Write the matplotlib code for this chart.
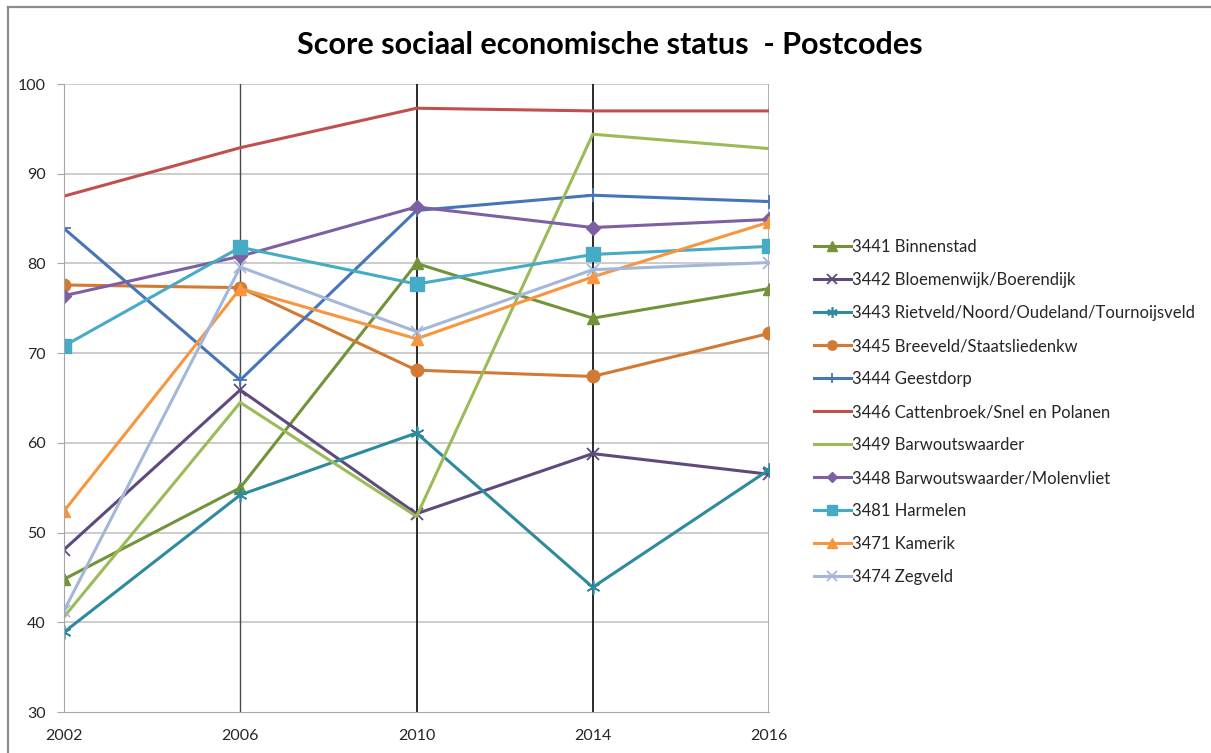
import matplotlib.pyplot as plt
from matplotlib.lines import Line2D

plt.rcParams['font.family'] = ['Lato', 'DejaVu Sans']

years = ["2002", "2006", "2010", "2014", "2016"]

binnenstad = [44.8, 55.0, 80.0, 73.9, 77.2]
bloemenwijk = [48.1, 65.9, 52.1, 58.8, 56.5]
rietveld = [38.9, 54.2, 61.1, 43.9, 57.0]
breeveld = [77.6, 77.3, 68.1, 67.4, 72.2]
geestdorp = [83.9, 67.0, 85.9, 87.6, 86.9]
cattenbroek = [87.5, 92.9, 97.3, 97.0, 97.0]
barwoutswaarder = [40.6, 64.5, 51.8, 94.4, 92.8]
molenvliet = [76.4, 80.8, 86.3, 84.0, 84.9]
harmelen = [70.8, 81.8, 77.7, 81.0, 81.9]
kamerik = [52.4, 77.2, 71.6, 78.5, 84.6]
zegveld = [41.3, 79.6, 72.4, 79.3, 80.1]

series = [
    ("3441 Binnenstad", binnenstad),
    ("3442 Bloemenwijk/Boerendijk", bloemenwijk),
    ("3443 Rietveld/Noord/Oudeland/Tournoijsveld", rietveld),
    ("3445 Breeveld/Staatsliedenkw", breeveld),
    ("3444 Geestdorp", geestdorp),
    ("3446 Cattenbroek/Snel en Polanen", cattenbroek),
    ("3449 Barwoutswaarder", barwoutswaarder),
    ("3448 Barwoutswaarder/Molenvliet", molenvliet),
    ("3481 Harmelen", harmelen),
    ("3471 Kamerik", kamerik),
    ("3474 Zegveld", zegveld),
]

styles = {
    "3441 Binnenstad": dict(color="#71943A", marker="^", markersize=9),
    "3442 Bloemenwijk/Boerendijk": dict(color="#5E4A7C", marker="x", markersize=9, markeredgewidth=1.3),
    "3443 Rietveld/Noord/Oudeland/Tournoijsveld": dict(color="#2E8A9E", marker=(6, 2, 0), markersize=10, markeredgewidth=1.2),
    "3445 Breeveld/Staatsliedenkw": dict(color="#D27A33", marker="o", markersize=9),
    "3444 Geestdorp": dict(color="#4676B8", marker="+", markersize=10, markeredgewidth=1.3),
    "3446 Cattenbroek/Snel en Polanen": dict(color="#C0504D"),
    "3449 Barwoutswaarder": dict(color="#9BBB59"),
    "3448 Barwoutswaarder/Molenvliet": dict(color="#7D5FA3", marker="D", markersize=7),
    "3481 Harmelen": dict(color="#45ABC6", marker="s", markersize=10),
    "3471 Kamerik": dict(color="#F7963F", marker="^", markersize=9),
    "3474 Zegveld": dict(color="#A5B7D8", marker="x", markersize=9, markeredgewidth=1.3),
}

W, H = 1211, 753
fig = plt.figure(figsize=(W / 100, H / 100), dpi=100)
fig.patch.set_facecolor("white")

# outer chart frame (left and top edges)
fig.add_artist(Line2D([8 / W, 8 / W], [0, 1 - 7 / H], color="#8C8C8C", lw=1.6))
fig.add_artist(Line2D([8 / W, 1], [1 - 7 / H, 1 - 7 / H], color="#8C8C8C", lw=1.6))

ax = fig.add_axes([64 / W, 1 - 712 / H, 705 / W, 628 / H])
x = list(range(len(years)))

for name, vals in series:
    ax.plot(x, vals, label=name, linewidth=2.2, **styles[name])

ax.set_xlim(0, 4)
ax.set_ylim(30, 100)
ax.set_yticks(range(30, 101, 10))
ax.set_xticks(x)
ax.set_xticklabels(years)

# horizontal gridlines light, vertical category lines dark
for yv in range(40, 101, 10):
    ax.axhline(yv, color="#BFBFBF", lw=1.1, zorder=0)
ax.axvline(1, color="#4A4A4A", lw=1.0, zorder=0)
for xv in [2, 3]:
    ax.axvline(xv, color="#1A1A1A", lw=1.3, zorder=0)
ax.axvline(4, color="#9A9A9A", lw=1.1, zorder=0)

for side in ["top", "right"]:
    ax.spines[side].set_visible(False)
ax.spines["left"].set_color("#A6A6A6")
ax.spines["bottom"].set_color("#A6A6A6")
ax.tick_params(axis="y", length=5, color="#A6A6A6", labelsize=11.5, labelcolor="#262626", pad=8)
ax.tick_params(axis="x", length=0, labelsize=11.5, labelcolor="#262626", pad=12)

fig.text(610 / W, 1 - 45 / H, "Score sociaal economische status  - Postcodes",
         ha="center", va="center", fontsize=22, fontweight="bold", color="#000000")

fig.legend(loc="upper left", bbox_to_anchor=(814 / W, 1 - 239 / H), frameon=False,
           fontsize=12, handlelength=2.2, handletextpad=0.1, labelspacing=1.02,
           markerscale=0.75, borderpad=0, borderaxespad=0, labelcolor="#262626")

plt.savefig("out.png", dpi=100)
